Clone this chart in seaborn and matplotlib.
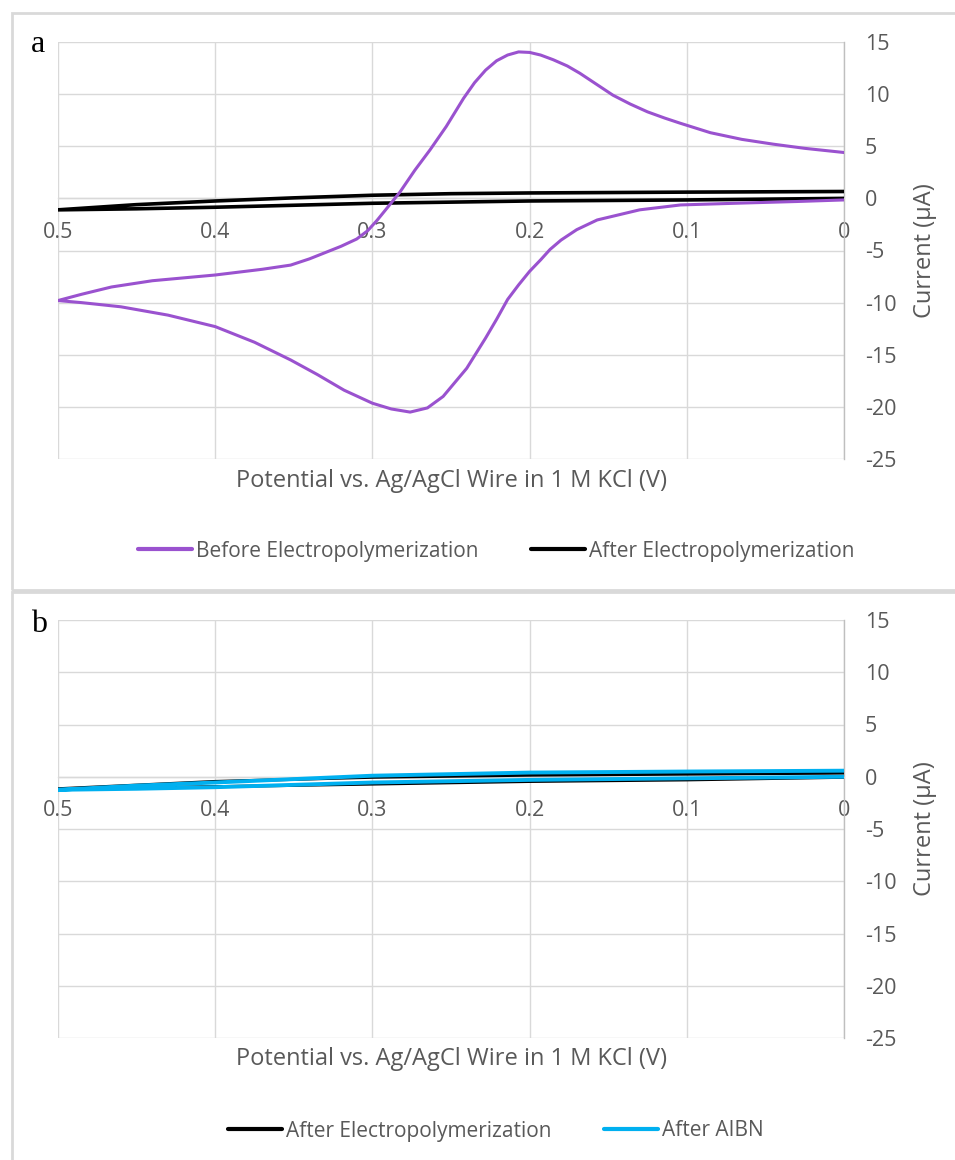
import matplotlib
matplotlib.use("Agg")
import matplotlib.pyplot as plt
from matplotlib.patches import Rectangle
from matplotlib.lines import Line2D
import pandas as pd
import seaborn as sns

# ---------------- data ----------------
# Panel a: before electropolymerization (purple)
before_v = [0.0, 0.03, 0.065, 0.104, 0.13, 0.157, 0.17, 0.18, 0.187, 0.193, 0.20, 0.207, 0.214,
            0.221, 0.228, 0.24, 0.255, 0.265, 0.276, 0.288, 0.30, 0.318, 0.335, 0.352, 0.375,
            0.40, 0.43, 0.46, 0.485, 0.50,
            0.485, 0.466, 0.44, 0.40, 0.37, 0.352, 0.34, 0.33, 0.32, 0.31, 0.303, 0.297,
            0.29, 0.2825, 0.273, 0.2634, 0.253, 0.242, 0.235, 0.228, 0.221, 0.214, 0.207,
            0.20, 0.193, 0.185, 0.176, 0.168, 0.157, 0.147, 0.136, 0.125, 0.114, 0.104,
            0.085, 0.065, 0.045, 0.025, 0.0]
before_i = [-0.15, -0.3, -0.45, -0.63, -1.1, -2.07, -3.0, -4.0, -4.9, -5.9, -7.0, -8.3, -9.7,
            -11.6, -13.4, -16.3, -19.0, -20.1, -20.5, -20.2, -19.65, -18.4, -16.9, -15.5, -13.8,
            -12.3, -11.2, -10.4, -10.0, -9.8,
            -9.2, -8.5, -7.9, -7.35, -6.8, -6.4, -5.8, -5.2, -4.6, -3.9, -3.1, -2.1,
            -0.8, 0.6, 2.7, 4.64, 6.9, 9.6, 11.1, 12.3, 13.2, 13.75, 14.05,
            14.0, 13.75, 13.3, 12.7, 12.0, 10.9, 9.9, 9.05, 8.3, 7.7, 7.2,
            6.3, 5.66, 5.2, 4.8, 4.4]

# After electropolymerization (black), panel a
after_a_v = [0.0, 0.1, 0.2, 0.3, 0.4, 0.45, 0.5, 0.45, 0.4, 0.35, 0.3, 0.25, 0.2, 0.1, 0.0]
after_a_i = [0.0, -0.15, -0.25, -0.47, -0.85, -1.0, -1.1, -0.6, -0.25, 0.05, 0.3, 0.45, 0.52, 0.6, 0.66]

# After electropolymerization (black), panel b
after_b_v = [0.0, 0.1, 0.2, 0.3, 0.4, 0.5, 0.4, 0.3, 0.2, 0.1, 0.0]
after_b_i = [-0.05, -0.3, -0.45, -0.7, -0.95, -1.15, -0.45, -0.05, 0.15, 0.25, 0.35]

# After AIBN (blue), panel b
aibn_v = [0.0, 0.1, 0.2, 0.3, 0.4, 0.45, 0.5, 0.45, 0.4, 0.3, 0.2, 0.1, 0.0]
aibn_i = [0.0, -0.15, -0.3, -0.55, -1.0, -1.15, -1.25, -0.85, -0.55, 0.1, 0.4, 0.5, 0.58]

x_ticks = [0.5, 0.4, 0.3, 0.2, 0.1, 0.0]
x_tick_labels = ["0.5", "0.4", "0.3", "0.2", "0.1", "0"]
y_ticks = [15, 10, 5, 0, -5, -10, -15, -20, -25]

PURPLE = "#9a52cf"
BLUE = "#00b0f0"
BLACK = "#000000"
TXT = "#595959"
GRID = "#d9d9d9"

sns.set_theme(style="white")
plt.rcParams["font.family"] = ["Open Sans", "DejaVu Sans"]
plt.rcParams["axes.unicode_minus"] = False
plt.rcParams["lines.solid_joinstyle"] = "round"
plt.rcParams["lines.solid_capstyle"] = "round"

W, H = 955, 1160
fig = plt.figure(figsize=(W / 100, H / 100), dpi=100)

TICK_FS = 15.5
LAB_FS = 17


def px_axes(x0, y0, x1, y1):
    return fig.add_axes([x0 / W, 1 - y1 / H, (x1 - x0) / W, (y1 - y0) / H])


def style_axes(ax):
    ax.set_xlim(0.5, 0.0)
    ax.set_ylim(-25, 15)
    ax.set_xticks(x_ticks)
    ax.set_xticklabels(x_tick_labels)
    ax.set_yticks(y_ticks)
    ax.yaxis.tick_right()
    ax.grid(True, color=GRID, linewidth=1.0)
    ax.set_axisbelow(True)
    for s in ["top", "left"]:
        ax.spines[s].set_visible(False)
    ax.spines["bottom"].set_position(("data", 0))
    ax.spines["bottom"].set_color(GRID)
    ax.spines["bottom"].set_linewidth(1.0)
    ax.spines["right"].set_color("#bfbfbf")
    ax.spines["right"].set_linewidth(1.0)
    ax.tick_params(axis="x", length=0, pad=17, labelsize=TICK_FS, labelcolor=TXT)
    ax.tick_params(axis="y", length=0, pad=15, labelsize=TICK_FS, labelcolor=TXT,
                   left=False, right=False, labelleft=False, labelright=True)
    ax.set_xlabel("")
    ax.set_ylabel("")


# frames
fig.patches.append(Rectangle((12 / W, 1 - 590 / H), (W + 10 - 12) / W, (590 - 13) / H,
                             transform=fig.transFigure, fill=False, edgecolor=GRID, linewidth=2))
fig.patches.append(Rectangle((12 / W, -0.02), (W + 10 - 12) / W, 1 - 592 / H + 0.02,
                             transform=fig.transFigure, fill=False, edgecolor=GRID, linewidth=2))

# ---------- panel a ----------
ax1 = px_axes(58, 42, 844, 459)
df_before = pd.DataFrame({"V": before_v, "I": before_i})
df_after_a = pd.DataFrame({"V": after_a_v, "I": after_a_i})
sns.lineplot(data=df_after_a, x="V", y="I", sort=False, estimator=None, ax=ax1,
             color=BLACK, linewidth=2.6, zorder=3)
sns.lineplot(data=df_before, x="V", y="I", sort=False, estimator=None, ax=ax1,
             color=PURPLE, linewidth=2.2, zorder=4)
style_axes(ax1)

# ---------- panel b ----------
ax2 = px_axes(58, 620, 844, 1038)
df_after_b = pd.DataFrame({"V": after_b_v, "I": after_b_i})
df_aibn = pd.DataFrame({"V": aibn_v, "I": aibn_i})
sns.lineplot(data=df_after_b, x="V", y="I", sort=False, estimator=None, ax=ax2,
             color=BLACK, linewidth=2.2, zorder=3)
sns.lineplot(data=df_aibn, x="V", y="I", sort=False, estimator=None, ax=ax2,
             color=BLUE, linewidth=2.8, zorder=4)
style_axes(ax2)

# axis titles
for yc_lab, yc_ax in [(481, 250.5), (1059, 829)]:
    fig.text(451 / W, 1 - yc_lab / H, "Potential vs. Ag/AgCl Wire in 1 M KCl (V)",
             ha="center", va="center", fontsize=LAB_FS, color=TXT)
    fig.text(925 / W, 1 - yc_ax / H, "Current (\u00b5A)", rotation=90,
             ha="center", va="center", fontsize=LAB_FS, color=TXT)

# panel letters
fig.text(38 / W, 1 - 52 / H, "a", ha="center", va="baseline", fontsize=23,
         family="Liberation Serif", color="black")
fig.text(39 / W, 1 - 632 / H, "b", ha="center", va="baseline", fontsize=23,
         family="Liberation Serif", color="black")

# legends
leg_kw = dict(ncol=2, frameon=False, fontsize=15, handlelength=2.6, handletextpad=0.2,
              columnspacing=2.5, labelcolor=TXT, loc="center")
h_a = [Line2D([], [], color=PURPLE, lw=3), Line2D([], [], color=BLACK, lw=3)]
fig.legend(h_a, ["Before Electropolymerization", "After Electropolymerization"],
           bbox_to_anchor=(496 / W, 1 - 551 / H), **leg_kw)
h_b = [Line2D([], [], color=BLACK, lw=3), Line2D([], [], color=BLUE, lw=3)]
fig.legend(h_b, ["After Electropolymerization", "After AIBN"],
           bbox_to_anchor=(496 / W, 1 - 1131 / H), **leg_kw)

fig.savefig("out.png", dpi=100, facecolor="white")
